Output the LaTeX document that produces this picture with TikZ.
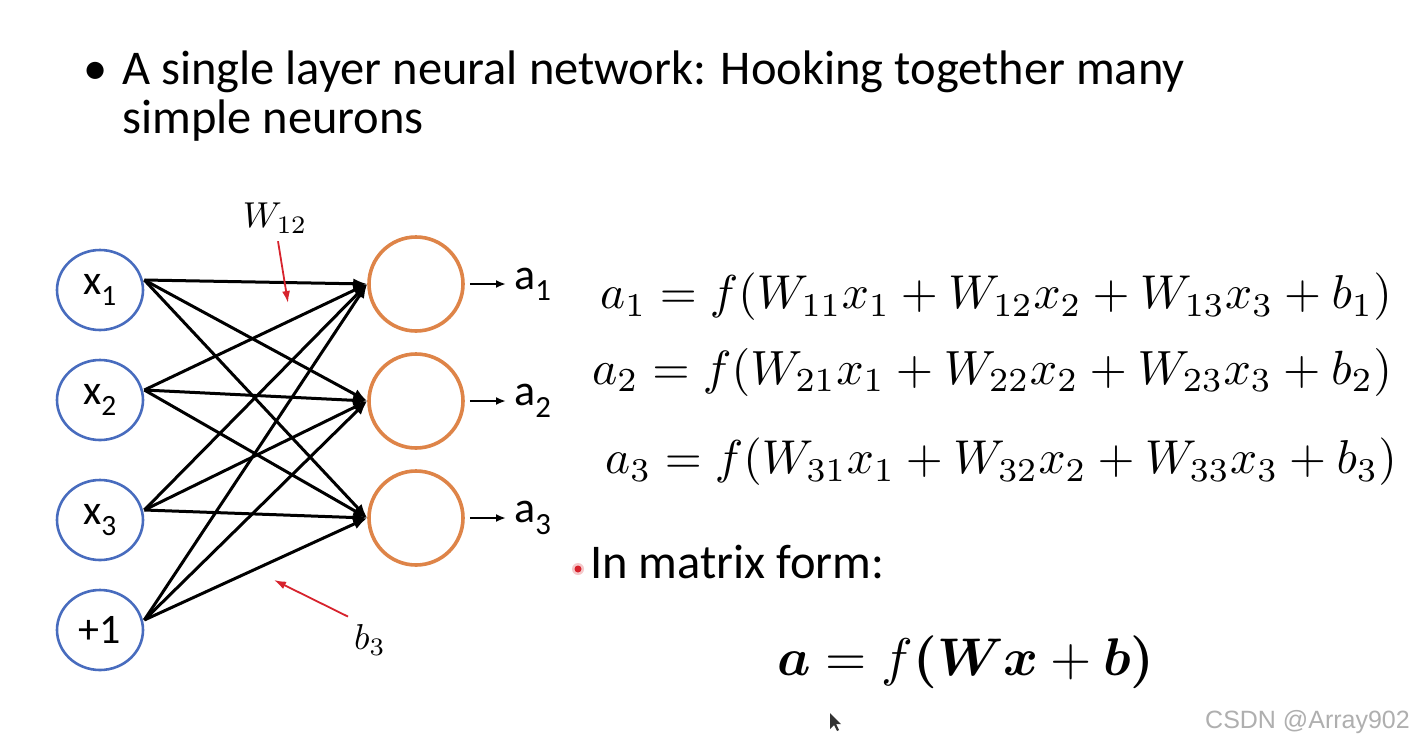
\documentclass[tikz,border=0pt]{standalone}
\usepackage{fontspec}
\usepackage{bm}
\usepackage{graphicx}
\setmainfont{Carlito}
\newfontfamily\wmfont{Liberation Sans}
\usetikzlibrary{arrows.meta,shapes.geometric}
\definecolor{inblue}{RGB}{72,108,190}
\definecolor{outorange}{RGB}{222,132,72}
\definecolor{pointred}{RGB}{215,35,45}
\definecolor{wmgray}{RGB}{175,175,175}
\newcommand{\scmath}[2]{\scalebox{#1}{$#2$}}
\tikzset{
  inp/.style={ellipse, draw=inblue, line width=2.6pt, minimum width=86pt, minimum height=80pt, inner sep=0pt, font=\fontsize{42}{48}\selectfont},
  outp/.style={circle, draw=outorange, line width=3.6pt, minimum size=94pt, inner sep=0pt},
  edge/.style={line width=3pt, -{Latex[length=14pt,width=11pt]}},
  outarr/.style={line width=2pt, -{Latex[length=10pt,width=8pt]}},
  redarr/.style={draw=pointred, line width=1.8pt, -{Latex[length=12pt,width=8pt]}},
  alab/.style={anchor=west, inner sep=0pt, font=\fontsize{44}{50}\selectfont},
  eqn/.style={inner sep=0pt},
  txt/.style={anchor=base west, inner sep=0pt, font=\fontsize{48.5}{54}\selectfont}
}
\begin{document}
\begin{tikzpicture}[x=1pt,y=-1pt]
\useasboundingbox[fill=white] (0,0) rectangle (1415,750);
% title
\node[txt, anchor=base east] (bul) at (108,84) {\textbullet};
\node[txt] (t1) at (122,84) {A single layer neural network: Hooking together many};
\node[txt] (t2) at (122,133) {simple neurons};
% inputs
\node[inp] (x1) at (100,290) {x\textsubscript{1}};
\node[inp] (x2) at (100,400) {x\textsubscript{2}};
\node[inp] (x3) at (100,520) {x\textsubscript{3}};
\node[inp] (x4) at (100,630) {+1};
% outputs
\node[outp] (o1) at (416,284) {};
\node[outp] (o2) at (416,401) {};
\node[outp] (o3) at (416,518) {};
% start points
\foreach \i in {1,...,4} {\coordinate (s\i) at ([yshift=10pt]x\i.east);}
\foreach \i in {1,...,4} {
  \foreach \j in {1,2,3} {
    \draw[edge] (s\i) -- (o\j.west);
  }
}
% output labels
\node[alab] (a1) at (514,284) {a\textsubscript{1}};
\node[alab] (a2) at (514,401) {a\textsubscript{2}};
\node[alab] (a3) at (514,518) {a\textsubscript{3}};
\foreach \j in {1,2,3} {\draw[outarr] ([xshift=5pt]o\j.east) -- ([xshift=-8pt]o\j.east -| a\j.west);}
% W12 and b3
\node[inner sep=0pt] (w12) at (275,218) {\scmath{3.6}{W_{12}}};
\coordinate (wtip) at (288,303);
\draw[redarr] ([xshift=3pt,yshift=-8pt]w12.south) -- (wtip);
\node[inner sep=0pt] (b3) at (370,640) {\scmath{3.6}{b_3}};
\coordinate (btip) at (274,580);
\draw[redarr] ([xshift=-6pt,yshift=8pt]b3.north west) -- (btip);
% equations
\node[eqn] (e1) at (996,297) {\scmath{4.75}{a_1=f(W_{11}x_1+W_{12}x_2+W_{13}x_3+b_1)}};
\node[eqn] (e2) at (992,372) {\scmath{4.8}{a_2=f(W_{21}x_1+W_{22}x_2+W_{23}x_3+b_2)}};
\node[eqn] (e3) at (1001,462) {\scmath{4.75}{a_3=f(W_{31}x_1+W_{32}x_2+W_{33}x_3+b_3)}};
% matrix form
\node[txt] (mf) at (590,578) {In matrix form:};
\fill[pointred!25] (578,569) circle (6pt);
\fill[pointred] (578,569) circle (3.5pt);
\node[eqn] (me) at (966,662) {\scmath{5.3}{\bm{a}=f\bm{(}\bm{W}\bm{x}+\bm{b}\bm{)}}};
% cursor
\fill[black!80] (830,713) -- (830,729) -- (834,725) -- (837,731) -- (839,730) -- (836,724) -- (841,724) -- cycle;
% watermark
\node[anchor=east, inner sep=0pt, text=wmgray, font=\wmfont\fontsize{25}{30}\selectfont] (wm) at (1410,722) {CSDN @Array902};
\end{tikzpicture}
\end{document}
